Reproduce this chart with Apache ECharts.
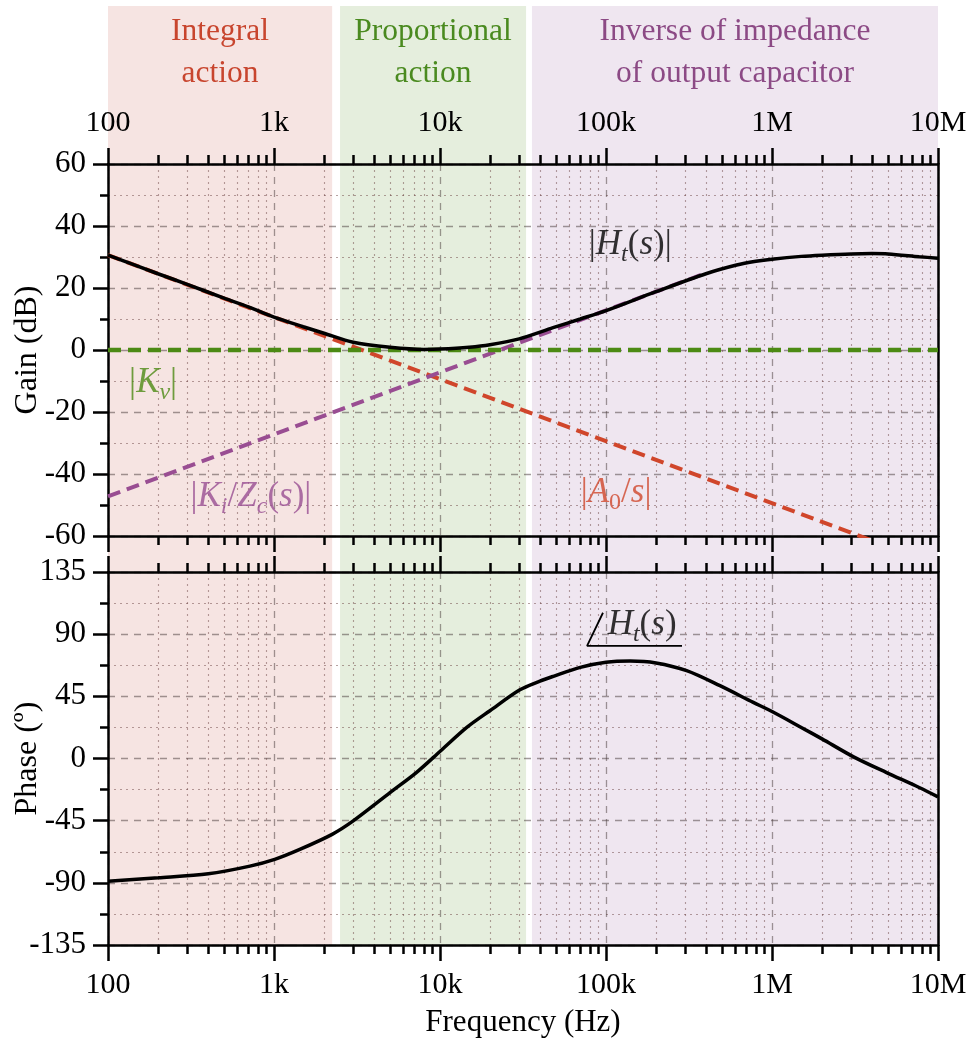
<!DOCTYPE html>
<html>
<head>
<meta charset="utf-8">
<script src="https://cdn.jsdelivr.net/npm/echarts@6/dist/echarts.min.js"></script>
<style>
html,body{margin:0;padding:0;background:#fff;}
#chart{width:972px;height:1042px;}
</style>
</head>
<body>
<div id="chart"></div>
<script>
// frequency axis (Hz)
const decadeLabels = ['100', '1k', '10k', '100k', '1M', '10M'];
const decadeStarts = [100, 1e3, 1e4, 1e5, 1e6];
const minorMult = [2, 3, 4, 5, 6, 7, 8, 9];

// shaded regions
const regionNames = ['Integral\naction', 'Proportional\naction', 'Inverse of impedance\nof output capacitor'];
const regionFrom = [100, 2500, 35800];
const regionTo = [2240, 33000, 1e7];

// |A0/s|, |Ki/Zc(s)|, |Kv| (dB)
const a0Freq = [100, 1e7];
const a0Gain = [30.6, -69.4];
const kiFreq = [100, 400000];
const kiGain = [-47.2, 24.8];
const kvFreq = [100, 1e7];
const kvGain = [0, 0];

// |Ht(s)| (dB)
const htFreq = [100, 200, 300, 500, 700, 1000, 1500, 2000, 3000, 5000, 8000, 10000, 15000, 20000, 30000, 48000, 70000, 100000, 200000, 400000, 612000, 800000, 1e6, 1.5e6, 2e6, 3e6, 4e6, 5e6, 7.7e6, 1e7];
const htGain = [30.6, 24.6, 21.2, 16.7, 13.9, 10.6, 7.5, 5.4, 2.5, 0.9, 0.2, 0.3, 0.9, 1.7, 3.6, 7.2, 10, 12.7, 18.8, 24.6, 27.4, 28.6, 29.3, 30.2, 30.6, 31.0, 31.1, 31.0, 30.1, 29.6];

// phase of Ht(s) (deg)
const phFreq = [100, 201, 402, 716, 1010, 1430, 2240, 3000, 5000, 7200, 10100, 14500, 20000, 30300, 40000, 48200, 70000, 100000, 140000, 200000, 306000, 486000, 771000, 1e6, 1.5e6, 2e6, 3.1e6, 4.9e6, 7.7e6, 1e7];
const phDeg = [-88.8, -86.4, -83.5, -77.9, -73, -65.8, -54.9, -45.2, -24.7, -10.2, 5.6, 22.5, 34.6, 49.7, 56, 59.5, 66, 69.7, 70.6, 69.2, 63.6, 52.7, 40.6, 34, 22.5, 14.2, 1.2, -10.2, -21, -27.8];

const lg = Math.log10;
const serif = 'Liberation Serif';
const red = '#d0462b', purple = '#994d92', green = '#4c8a14';
const regionColors = ['#f6e4e2', '#e5eedd', '#efe6f0'];
const regionText = ['#c8452e', '#4a8a1f', '#8c4a85'];

const minorTicks = [];
decadeStarts.forEach(d => minorMult.forEach(m => minorTicks.push(lg(d * m))));

const pts = (fs, vs) => fs.map((f, i) => [lg(f), vs[i]]);

const majorGrid = {show: true, lineStyle: {color: 'rgba(70,55,55,0.5)', type: [7, 6], width: 1.3}};
const minorGrid = {show: true, lineStyle: {color: 'rgba(110,70,70,0.5)', type: [2, 4], width: 1.1}};
const black = {color: '#000', width: 2.5};

function xMajor(gridIndex, position, showLabel, showSplit, name) {
	return {
		type: 'value', gridIndex, position, min: 2, max: 7, interval: 1,
		name: name || '', nameLocation: 'middle', nameGap: 62, nameMoveOverlap: false,
		nameTextStyle: {fontFamily: serif, fontSize: 31, color: '#000'},
		axisLine: {show: true, onZero: false, lineStyle: black},
		axisTick: {show: true, length: 16, lineStyle: black},
		axisLabel: {show: showLabel, margin: position === 'top' ? 26 : 25, fontFamily: serif, fontSize: 30, color: '#000',
			formatter: v => decadeLabels[Math.round(v) - 2]},
		splitLine: showSplit ? majorGrid : {show: false}
	};
}
function xMinor(gridIndex, position, showSplit) {
	return {
		type: 'value', gridIndex, position, min: 2, max: 7,
		axisLine: {show: false, onZero: false},
		axisTick: {show: true, length: 9, customValues: minorTicks, lineStyle: black},
		axisLabel: {show: false},
		splitLine: showSplit ? minorGrid : {show: false}
	};
}
function yLeft(gridIndex, min, max, interval, name) {
	return {
		type: 'value', gridIndex, position: 'left', min, max, interval,
		name, nameLocation: 'middle', nameGap: 64, nameMoveOverlap: false,
		nameTextStyle: {fontFamily: serif, fontSize: 32, color: '#000'},
		axisLine: {show: true, onZero: false, lineStyle: black},
		axisTick: {show: true, length: 15, lineStyle: black},
		minorTick: {show: true, splitNumber: 2, length: 8, lineStyle: black},
		axisLabel: {margin: 22, fontFamily: serif, fontSize: 31, color: '#000'},
		splitLine: majorGrid,
		minorSplitLine: minorGrid
	};
}
function yRight(gridIndex, min, max) {
	return {
		type: 'value', gridIndex, position: 'right', min, max,
		axisLine: {show: true, onZero: false, lineStyle: black},
		axisTick: {show: false}, axisLabel: {show: false}, splitLine: {show: false}
	};
}

// subscripts are pushed down with top padding
const mathRich = color => ({
	r: {fontFamily: serif, fontSize: 35, color, lineHeight: 40},
	i: {fontFamily: serif, fontStyle: 'italic', fontSize: 35, color, lineHeight: 40},
	s: {fontFamily: serif, fontStyle: 'italic', fontSize: 24, color, lineHeight: 14, padding: [20, 0, 0, 0]},
	u: {fontFamily: serif, fontSize: 24, color, lineHeight: 14, padding: [20, 0, 0, 0]}
});

// curve annotations (anchor in Hz, dB / deg)
const gainNotes = [
	{text: '{r||}{i|H}{s|t}{r|(}{i|s}{r|)|}', f: 140000, v: 33.9, color: '#000'},
	{text: '{r||}{i|K}{s|v}{r||}', f: 187, v: -10.6, color: green},
	{text: '{r||}{i|K}{s|i}{r|/}{i|Z}{s|c}{r|(}{i|s}{r|)|}', f: 726, v: -47.4, color: purple},
	{text: '{r||}{i|A}{u|0}{r|/}{i|s}{r||}', f: 115000, v: -46.1, color: red}
];
const phaseNotes = [
	{text: '{i|H}{s|t}{r|(}{i|s}{r|)}', f: 165000, v: 96.7, color: '#000'}
];
// angle sign under the phase label
const angleFreq = [95900, 76900, 287000];
const angleDeg = [105.5, 81.5, 81.5];

const noteData = notes => notes.map(n => ({
	value: [lg(n.f), n.v],
	label: {show: true, position: 'inside', formatter: n.text, rich: mathRich(n.color)}
}));

const dashed = (color, width) => ({color, width, type: [13, 7]});

const chart = echarts.init(document.getElementById('chart'));
chart.setOption({
	animation: false,
	backgroundColor: '#fff',
	grid: [
		{left: 108, right: 34, top: 6, bottom: 97, containLabel: false, outerBoundsMode: 'none'},
		{left: 108, right: 34, top: 164, height: 372, containLabel: false, outerBoundsMode: 'none'},
		{left: 108, right: 34, top: 572, height: 373, containLabel: false, outerBoundsMode: 'none'}
	],
	xAxis: [
		{type: 'value', gridIndex: 0, min: 2, max: 7, show: false},
		xMajor(1, 'top', true, true),
		xMinor(1, 'top', true),
		xMajor(1, 'bottom', false, false),
		xMinor(1, 'bottom', false),
		xMajor(2, 'top', false, true),
		xMinor(2, 'top', true),
		xMajor(2, 'bottom', true, false, 'Frequency (Hz)'),
		xMinor(2, 'bottom', false)
	],
	yAxis: [
		{type: 'value', gridIndex: 0, min: 0, max: 1, show: false},
		yLeft(1, -60, 60, 20, 'Gain (dB)'),
		yRight(1, -60, 60),
		yLeft(2, -135, 135, 45, 'Phase (º)'),
		yRight(2, -135, 135)
	],
	series: [
		{
			type: 'line', xAxisIndex: 0, yAxisIndex: 0, z: -5, silent: true,
			data: [[2, -1], [7, -1]], symbol: 'none', lineStyle: {width: 0},
			markArea: {
				silent: true, z: -5,
				data: regionNames.map((name, i) => [
					{name, xAxis: lg(regionFrom[i]), yAxis: 0, itemStyle: {color: regionColors[i]},
						label: {show: true, position: 'insideTop', distance: 5, fontFamily: serif, fontSize: 31.5, lineHeight: 42, color: regionText[i]}},
					{xAxis: lg(regionTo[i]), yAxis: 1}
				])
			}
		},
		{type: 'line', xAxisIndex: 1, yAxisIndex: 1, data: pts(a0Freq, a0Gain), symbol: 'none', lineStyle: dashed(red, 4)},
		{type: 'line', xAxisIndex: 1, yAxisIndex: 1, data: pts(kiFreq, kiGain), symbol: 'none', lineStyle: dashed(purple, 4)},
		{type: 'line', xAxisIndex: 1, yAxisIndex: 1, data: pts(kvFreq, kvGain), symbol: 'none', lineStyle: dashed(green, 4.5)},
		{type: 'line', xAxisIndex: 1, yAxisIndex: 1, data: pts(htFreq, htGain), symbol: 'none', smooth: 0.3, lineStyle: {color: '#000', width: 3.5}},
		{type: 'line', xAxisIndex: 5, yAxisIndex: 3, data: pts(phFreq, phDeg), symbol: 'none', smooth: 0.3, lineStyle: {color: '#000', width: 3.5}},
		{type: 'line', xAxisIndex: 5, yAxisIndex: 3, data: pts(angleFreq, angleDeg), symbol: 'none', lineStyle: {color: '#000', width: 1.8}},
		{type: 'scatter', xAxisIndex: 1, yAxisIndex: 1, symbolSize: 0, data: noteData(gainNotes), silent: true},
		{type: 'scatter', xAxisIndex: 5, yAxisIndex: 3, symbolSize: 0, data: noteData(phaseNotes), silent: true}
	]
});
</script>
</body>
</html>
